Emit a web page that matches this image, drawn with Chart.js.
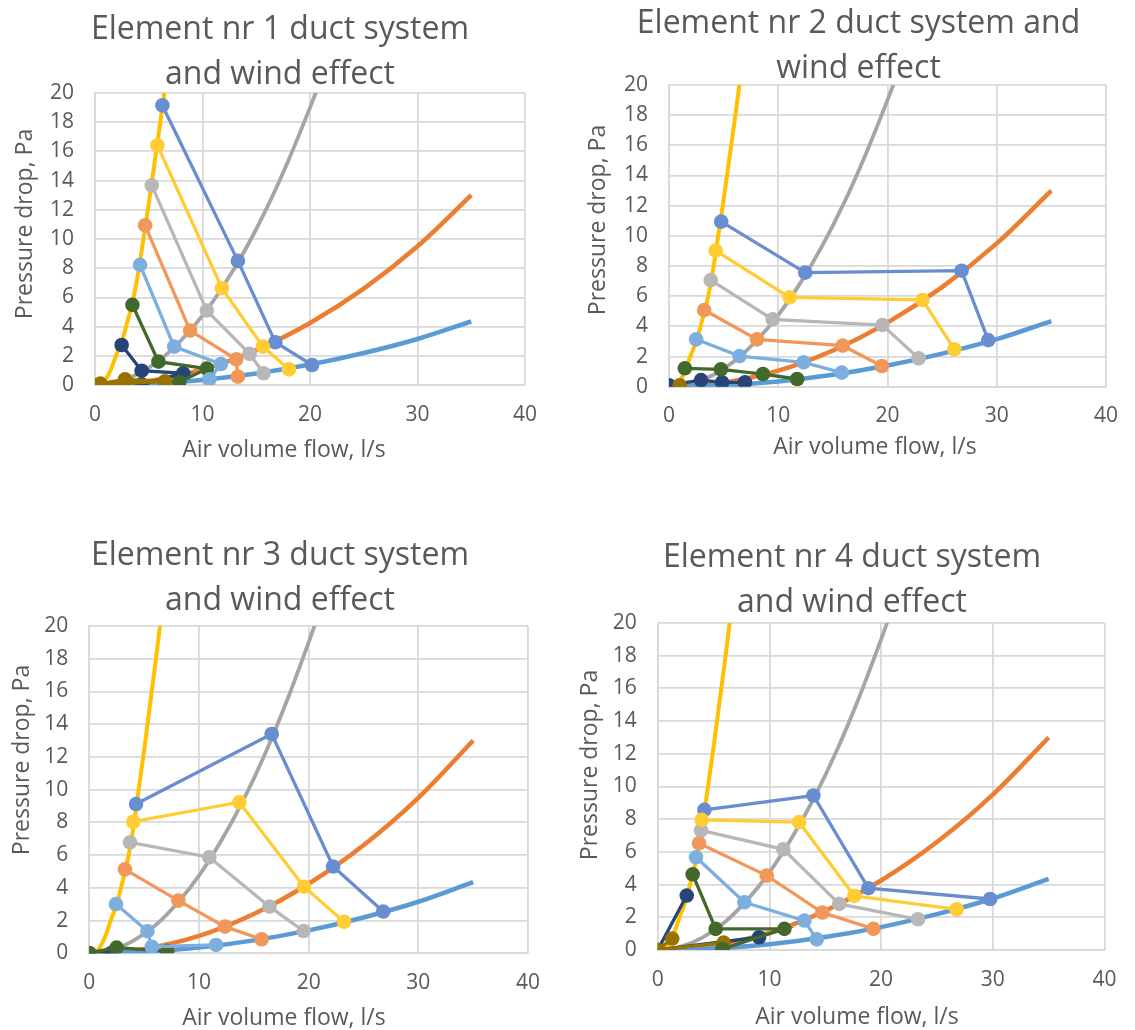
<!DOCTYPE html>
<html>
<head>
<meta charset="utf-8">
<script src="https://cdn.jsdelivr.net/npm/chart.js@4.4.1/dist/chart.umd.min.js"></script>
<style>
  html, body { margin: 0; padding: 0; background: #fff; overflow: hidden; }
  body { width: 1135px; height: 1030px; position: relative; }
  canvas { position: absolute; }
</style>
</head>
<body>
<canvas id="c1" width="560" height="470" style="left:0;top:0"></canvas>
<canvas id="c2" width="575" height="470" style="left:560px;top:0"></canvas>
<canvas id="c3" width="560" height="510" style="left:0;top:520px"></canvas>
<canvas id="c4" width="575" height="510" style="left:560px;top:520px"></canvas>
<script>
// axis ticks
const flowTicks = [0, 10, 20, 30, 40];
const dropTicks = [0, 2, 4, 6, 8, 10, 12, 14, 16, 18, 20];

// curves, same in every chart  [flow l/s, pressure Pa]
const curveOrange = [[0,0],[5,0.27],[10,1.06],[15,2.4],[20,4.25],[25,6.6],[30,9.5],[35,13]];
const curveGrey = [[0,0],[2,0.19],[4,0.76],[6,1.7],[8,3.05],[10,4.75],[12,6.85],[14,9.3],[16,12.15],[18,15.4],[20,19],[21,20.9]];
const curveGold = [[0.5,0],[1,0.4],[1.5,1.1],[2,2.1],[2.5,3],[3,4.3],[3.5,5.7],[4,7.6],[4.5,10],[5,12.4],[5.5,15],[6,17.6],[6.5,20.3],[6.7,21.5]];
const curveBlue = [[0,0],[5,0.09],[10,0.35],[15,0.79],[20,1.4],[25,2.19],[30,3.15],[35,4.35]];

// element 1
const e1Navy = [[2.48,2.74],[4.34,0.98],[8.2,0.8],[4.34,0.05]];
const e1DarkGrey = [[1.4,0]];
const e1Gold = [[0.5,0.1],[2.79,0.39],[6.5,0.25],[0,0]];
const e1Green = [[3.48,5.49],[5.9,1.6],[10.4,1.12],[7.83,0.18]];
const e1Blue = [[6.27,19.15],[13.29,8.5],[16.77,2.93],[20.19,1.37]];
const e1Orange = [[4.66,10.93],[8.85,3.73],[13.14,1.76],[13.29,0.57]];
const e1Grey = [[5.28,13.67],[10.4,5.1],[14.38,2.13],[15.68,0.8]];
const e1Yellow = [[5.81,16.41],[11.8,6.63],[15.62,2.63],[18.04,1.07]];
const e1Light = [[4.19,8.23],[7.36,2.63],[11.71,1.44],[10.65,0.39]];

// element 2
const e2Navy = [[0,0.1],[2.93,0.44],[4.86,0.29],[6.95,0.29]];
const e2Gold = [[0.98,0.1]];
const e2Green = [[1.45,1.22],[4.75,1.15],[8.6,0.84],[11.73,0.51]];
const e2Blue = [[4.78,10.94],[12.47,7.56],[26.78,7.69],[29.22,3.09]];
const e2Orange = [[3.22,5.08],[8.06,3.14],[15.9,2.72],[19.48,1.37]];
const e2Grey = [[3.82,7.07],[9.49,4.46],[19.54,4.09],[22.85,1.88]];
const e2Yellow = [[4.27,9.02],[11.04,5.92],[23.2,5.75],[26.12,2.48]];
const e2Light = [[2.48,3.14],[6.45,2.03],[12.32,1.61],[15.81,0.93]];

// element 3
const e3Navy = [[0,0],[1.95,0]];
const e3Green = [[0,0.02],[2.49,0.35],[7.1,0.13]];
const e3Blue = [[4.26,9.12],[16.63,13.4],[22.23,5.3],[26.8,2.55]];
const e3Orange = [[3.25,5.13],[8.12,3.22],[12.37,1.63],[15.71,0.86]];
const e3Grey = [[3.71,6.78],[10.94,5.87],[16.43,2.85],[19.54,1.36]];
const e3Yellow = [[4.01,8.04],[13.68,9.23],[19.57,4.07],[23.23,1.93]];
const e3Light = [[2.43,3.01],[5.3,1.35],[5.7,0.4],[11.55,0.51]];

// element 4
const e4Navy = [[2.6,3.33],[0,0],[9.07,0.78]];
const e4Gold = [[1.3,0.7],[0,0],[5.9,0.45]];
const e4Green = [[3.13,4.63],[5.19,1.29],[11.34,1.29],[5.79,0.06]];
const e4Blue = [[4.18,8.57],[13.94,9.45],[18.86,3.78],[29.76,3.12]];
const e4Orange = [[3.7,6.53],[9.76,4.55],[14.74,2.29],[19.31,1.29]];
const e4Grey = [[3.88,7.31],[11.25,6.16],[16.25,2.82],[23.3,1.88]];
const e4Yellow = [[3.94,7.96],[12.66,7.82],[17.6,3.31],[26.76,2.49]];
const e4Light = [[3.43,5.67],[7.76,2.92],[13.13,1.8],[14.24,0.65]];

const FONT = '"Open Sans", "Noto Sans", sans-serif';
const TXT = '#595959';
const GRID = '#d9d9d9';

function curve(data, color, width) {
  return { data, borderColor: color, borderWidth: width, pointRadius: 0, showLine: true,
           tension: 0.4, cubicInterpolationMode: 'monotone' };
}
function marked(data, color, style) {
  return { data, borderColor: color, backgroundColor: color, borderWidth: 3.3, showLine: true,
           tension: 0, pointRadius: style ? 5 : 7.3, pointStyle: style || 'circle',
           pointBorderWidth: 0, pointBackgroundColor: color };
}

// excel series order: later series on top
function seriesFor(s) {
  const list = [
    curve(curveOrange, '#ed7d31', 4.5),
    curve(curveGrey, '#a5a5a5', 3.8),
    curve(curveGold, '#ffc000', 4),
    curve(curveBlue, '#5b9bd5', 4.5),
  ];
  if (s.navy) list.push(marked(s.navy, '#264478'));
  if (s.dgrey) list.push(marked(s.dgrey, '#636363', 'rectRot'));
  if (s.gold) list.push(marked(s.gold, '#997300'));
  if (s.green) list.push(marked(s.green, '#43682b'));
  list.push(marked(s.blue, '#698ed0'));
  list.push(marked(s.orange, '#f1975a'));
  list.push(marked(s.grey, '#b7b7b7'));
  list.push(marked(s.yellow, '#ffcd33'));
  list.push(marked(s.light, '#7cafdd'));
  list.forEach((d, i) => { d.order = list.length - i; });
  return list;
}

const axisTitles = {
  id: 'axisTitles',
  afterDraw(chart, args, o) {
    const ctx = chart.ctx;
    ctx.save();
    ctx.fillStyle = TXT;
    ctx.font = '23px ' + FONT;
    ctx.textAlign = 'center';
    ctx.textBaseline = 'middle';
    ctx.fillText('Air volume flow, l/s', o.x[0], o.x[1]);
    ctx.translate(o.y[0], o.y[1]);
    ctx.rotate(-Math.PI / 2);
    ctx.fillText('Pressure drop, Pa', 0, 0);
    ctx.restore();
  }
};

function makeChart(id, title, s, g) {
  new Chart(document.getElementById(id), {
    type: 'scatter',
    data: { datasets: seriesFor(s) },
    plugins: [axisTitles],
    options: {
      responsive: false,
      animation: false,
      layout: { padding: { left: g.L, right: g.R, top: 0, bottom: 0 } },
      scales: {
        x: {
          type: 'linear', min: 0, max: 40,
          afterBuildTicks: sc => { sc.ticks = flowTicks.map(v => ({ value: v })); },
          afterFit: sc => { sc.height = g.xh; },
          ticks: { color: TXT, font: { family: FONT, size: 21 }, padding: 17 },
          grid: { color: GRID, lineWidth: 1.8, drawTicks: false },
          border: { color: GRID, width: 1.8 }
        },
        y: {
          type: 'linear', min: 0, max: 20,
          afterBuildTicks: sc => { sc.ticks = dropTicks.map(v => ({ value: v })); },
          afterFit: sc => { sc.width = g.yw; },
          ticks: { color: TXT, font: { family: FONT, size: 21 }, padding: 21 },
          grid: { color: GRID, lineWidth: 1.8, drawTicks: false },
          border: { color: GRID, width: 1.8 }
        }
      },
      plugins: {
        legend: { display: false },
        tooltip: { enabled: false },
        title: {
          display: true, text: title, color: TXT,
          font: { family: FONT, size: 32, weight: 'normal', lineHeight: 45 / 32 },
          padding: { top: g.pt, bottom: g.pb }
        },
        axisTitles: { x: g.xt, y: g.yt }
      }
    }
  });
}

makeChart('c1', ['Element nr 1 duct system', 'and wind effect'],
  { navy: e1Navy, dgrey: e1DarkGrey, gold: e1Gold, green: e1Green, blue: e1Blue,
    orange: e1Orange, grey: e1Grey, yellow: e1Yellow, light: e1Light },
  { L: 35, R: 35, yw: 60, xh: 85, pt: 7.5, pb: -4.5, xt: [284, 450], yt: [25, 224] });

makeChart('c2', ['Element nr 2 duct system and', 'wind effect'],
  { navy: e2Navy, gold: e2Gold, green: e2Green, blue: e2Blue,
    orange: e2Orange, grey: e2Grey, yellow: e2Yellow, light: e2Light },
  { L: 41, R: 19, yw: 68, xh: 83.3, pt: 1, pb: -6, xt: [315, 447], yt: [38, 220] });

makeChart('c3', ['Element nr 3 duct system', 'and wind effect'],
  { navy: e3Navy, green: e3Green, blue: e3Blue,
    orange: e3Orange, grey: e3Grey, yellow: e3Yellow, light: e3Light },
  { L: 32, R: 32, yw: 57.3, xh: 76.7, pt: 13.5, pb: 2.5, xt: [284, 1018 - 520], yt: [22, 240] });

makeChart('c4', ['Element nr 4 duct system', 'and wind effect'],
  { navy: e4Navy, gold: e4Gold, green: e4Green, blue: e4Blue,
    orange: e4Orange, grey: e4Grey, yellow: e4Yellow, light: e4Light },
  { L: 39.5, R: 30.5, yw: 58.2, xh: 80, pt: 15.5, pb: -2.5, xt: [297, 497], yt: [30, 245] });
</script>
</body>
</html>
